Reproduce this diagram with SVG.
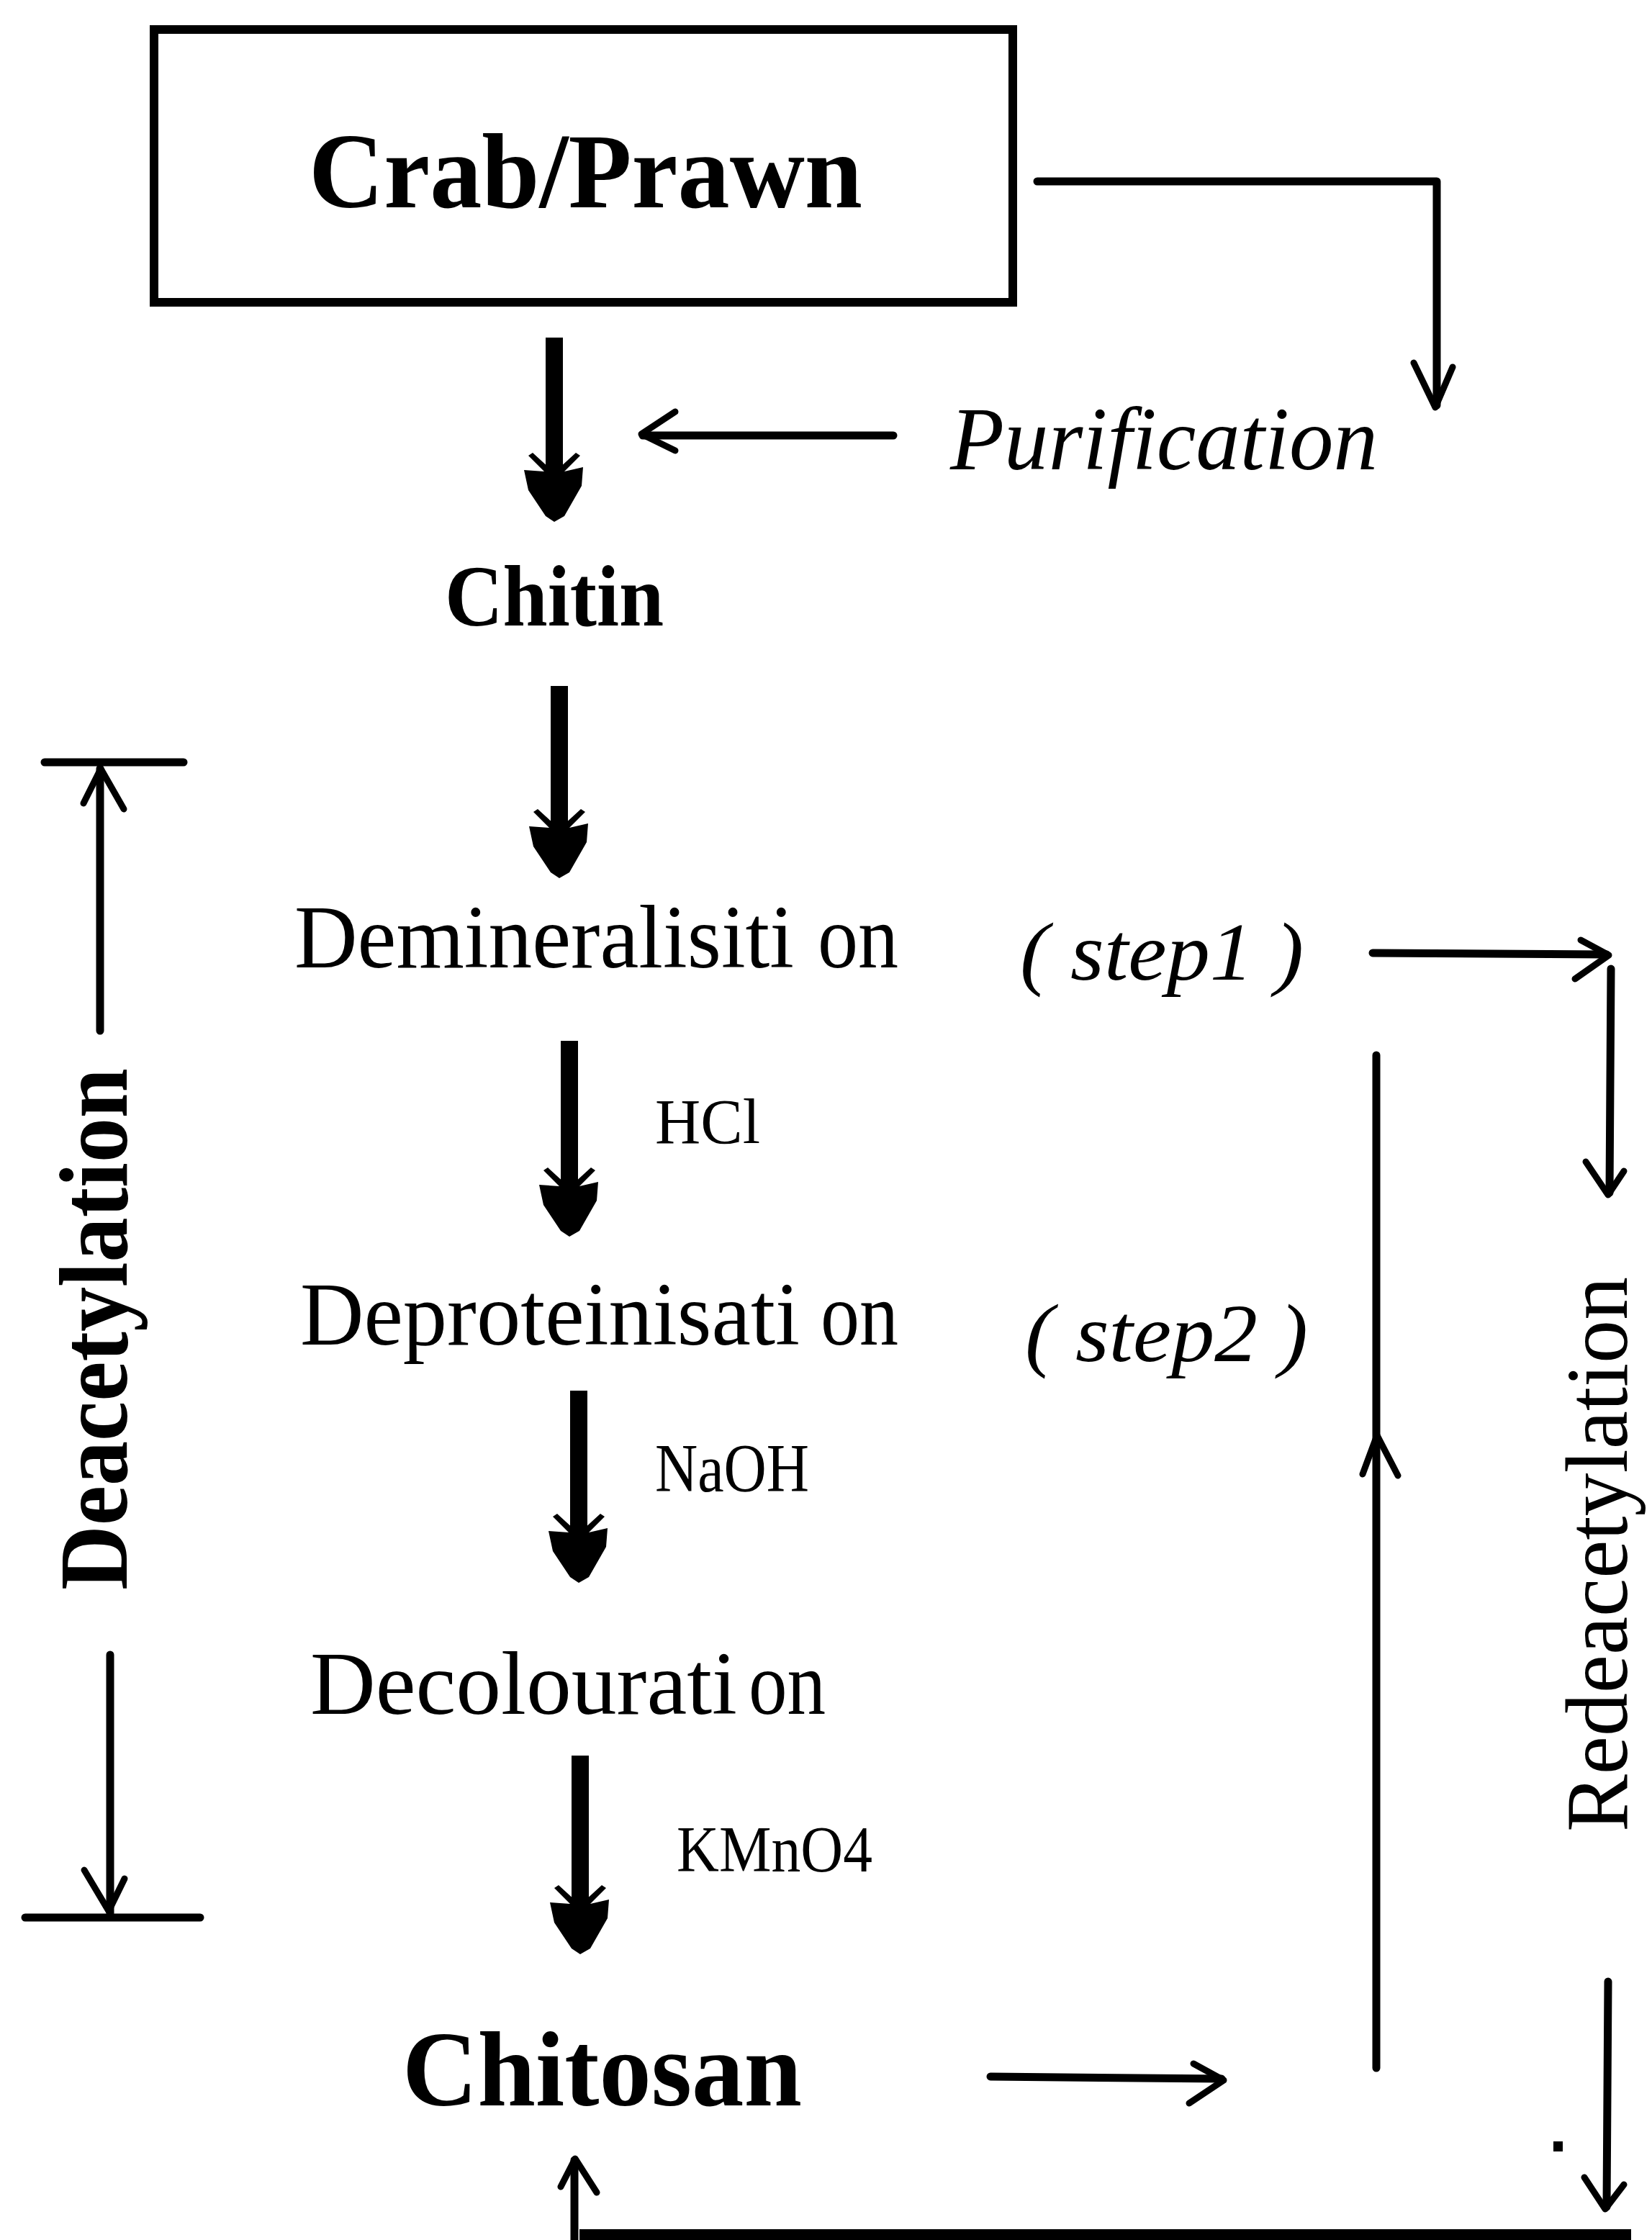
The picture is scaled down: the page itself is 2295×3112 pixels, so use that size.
<svg xmlns="http://www.w3.org/2000/svg" xmlns:xlink="http://www.w3.org/1999/xlink" width="2295" height="3112" viewBox="0 0 2295 3112">
<style>
  .ln { stroke: #000; stroke-width: 11; fill: none; stroke-linecap: round; stroke-linejoin: round; }
  .hd { stroke: #000; stroke-width: 9; fill: none; stroke-linecap: round; stroke-linejoin: round; }
  .shaft { stroke: #000; stroke-width: 24; fill: none; }
  .bold { font-family: "Liberation Serif", "Times New Roman", serif; font-weight: bold; fill: #000; }
  .reg { font-family: "Liberation Serif", "Times New Roman", serif; fill: #000; }
  .ital { font-family: "Liberation Serif", "Times New Roman", serif; font-style: italic; fill: #000; }
</style>
<defs>
  <path id="thickHead" d="M-42,-72 L-14,-70 L-36,-92 L-30,-96 L-6,-74 L6,-74 L30,-96 L36,-92 L14,-70 L40,-76 L38,-50 L14,-8 L0,0 L-12,-8 L-36,-44 Z" fill="#000"/>
</defs>
<rect x="0" y="0" width="2295" height="3112" fill="#fff"/>

<g id="node-crab">
  <rect x="214" y="41" width="1193" height="379" fill="none" stroke="#000" stroke-width="12"/>
  <text class="bold" x="429" y="288" font-size="148" textLength="769" lengthAdjust="spacingAndGlyphs">Crab/Prawn</text>
</g>
<g id="node-purification">
  <text class="ital" x="1320" y="652" font-size="125" textLength="594" lengthAdjust="spacingAndGlyphs">Purification</text>
</g>
<g id="node-chitin">
  <text class="bold" x="618" y="869" font-size="120" textLength="304" lengthAdjust="spacingAndGlyphs">Chitin</text>
</g>
<g id="node-demineralisation">
  <text class="reg" y="1344" font-size="125"><tspan x="409" textLength="694" lengthAdjust="spacingAndGlyphs">Demineralisiti</tspan><tspan x="1136" textLength="112" lengthAdjust="spacingAndGlyphs">on</tspan></text>
</g>
<g id="node-step1">
  <text class="ital" x="1417" y="1361" font-size="115" textLength="394" lengthAdjust="spacingAndGlyphs">( step1 )</text>
</g>
<g id="node-deproteinisation">
  <text class="reg" y="1868" font-size="125"><tspan x="417" textLength="694" lengthAdjust="spacingAndGlyphs">Deproteinisati</tspan><tspan x="1140" textLength="108" lengthAdjust="spacingAndGlyphs">on</tspan></text>
</g>
<g id="node-step2">
  <text class="ital" x="1424" y="1891" font-size="115" textLength="393" lengthAdjust="spacingAndGlyphs">( step2 )</text>
</g>
<g id="node-decolouration">
  <text class="reg" y="2381" font-size="125"><tspan x="431" textLength="593" lengthAdjust="spacingAndGlyphs">Decolourati</tspan><tspan x="1040" textLength="107" lengthAdjust="spacingAndGlyphs">on</tspan></text>
</g>
<g id="node-chitosan">
  <text class="bold" x="559" y="2925" font-size="148" textLength="555" lengthAdjust="spacingAndGlyphs">Chitosan</text>
</g>
<g id="label-hcl">
  <text class="reg" x="910" y="1588" font-size="88" textLength="146" lengthAdjust="spacingAndGlyphs">HCl</text>
</g>
<g id="label-naoh">
  <text class="reg" x="910" y="2072" font-size="95" textLength="214" lengthAdjust="spacingAndGlyphs">NaOH</text>
</g>
<g id="label-kmno4">
  <text class="reg" x="940" y="2600" font-size="90" textLength="272" lengthAdjust="spacingAndGlyphs">KMnO4</text>
</g>
<g id="label-deacetylation">
  <text class="bold" transform="translate(176,2209) rotate(-90)" x="0" y="0" font-size="136" textLength="725" lengthAdjust="spacingAndGlyphs">Deacetylation</text>
</g>
<g id="label-redeacetylation">
  <text class="reg" transform="translate(2260,2545) rotate(-90)" x="0" y="0" font-size="122" textLength="771" lengthAdjust="spacingAndGlyphs">Redeacetylation</text>
</g>

<g id="connectors">
  <line class="shaft" x1="770" y1="469" x2="770" y2="660"/>
  <use xlink:href="#thickHead" href="#thickHead" transform="translate(770,725)"/>
  <line class="shaft" x1="777" y1="953" x2="777" y2="1155"/>
  <use xlink:href="#thickHead" href="#thickHead" transform="translate(777,1220)"/>
  <line class="shaft" x1="791" y1="1446" x2="791" y2="1653"/>
  <use xlink:href="#thickHead" href="#thickHead" transform="translate(791,1718)"/>
  <line class="shaft" x1="804" y1="1932" x2="804" y2="2134"/>
  <use xlink:href="#thickHead" href="#thickHead" transform="translate(804,2199)"/>
  <line class="shaft" x1="806" y1="2439" x2="806" y2="2650"/>
  <use xlink:href="#thickHead" href="#thickHead" transform="translate(806,2715)"/>

  <polyline class="ln" points="1441,252 1996,252 1996,563"/>
  <path class="hd" d="M1964,504 L1994,566 L2018,510"/>
  <line class="ln" x1="1241" y1="605" x2="893" y2="605"/>
  <path class="hd" d="M938,572 L891,603 L938,626"/>

  <line class="ln" x1="62" y1="1059" x2="255" y2="1059" stroke-width="14"/>
  <line class="ln" x1="139" y1="1068" x2="139" y2="1432"/>
  <path class="hd" d="M116,1116 L140,1068 L172,1124"/>
  <line class="ln" x1="153" y1="2299" x2="153" y2="2658"/>
  <path class="hd" d="M117,2598 L151,2655 L173,2610"/>
  <line class="ln" x1="35" y1="2664" x2="278" y2="2664" stroke-width="14"/>

  <line class="ln" x1="1907" y1="1324" x2="2232" y2="1326"/>
  <path class="hd" d="M2196,1306 L2235,1327 L2188,1360"/>
  <line class="ln" x1="2238" y1="1346" x2="2236" y2="1657"/>
  <path class="hd" d="M2203,1614 L2234,1660 L2256,1627"/>

  <line class="ln" x1="1376" y1="2885" x2="1697" y2="2888"/>
  <path class="hd" d="M1658,2867 L1700,2890 L1652,2922"/>
  <line class="ln" x1="1912" y1="1466" x2="1912" y2="2873"/>
  <path class="hd" d="M1893,2048 L1913,1994 L1942,2050"/>

  <line class="ln" x1="2234" y1="2753" x2="2232" y2="3066"/>
  <path class="hd" d="M2201,3025 L2230,3069 L2256,3035"/>
  <rect x="2158" y="2975" width="13" height="14" fill="#000"/>

  <rect x="805" y="3097" width="1461" height="15" fill="#000"/>
  <line class="ln" x1="798" y1="3112" x2="798" y2="3001"/>
  <path class="hd" d="M779,3038 L799,2999 L829,3046"/>
</g>
</svg>
